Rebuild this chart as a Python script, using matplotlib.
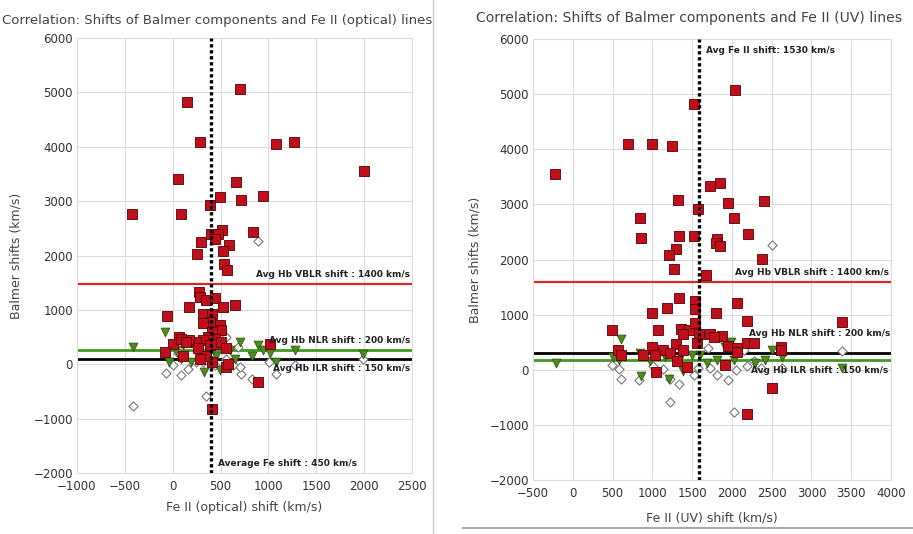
import matplotlib.pyplot as plt
from matplotlib.lines import Line2D

# Left panel: Fe II (optical) vs Balmer shifts
opt_vblr_x = [700, 150, 290, 1080, 1270, 2000, 60, 660, 490, 715, 940, 390, -420, 90,
              520, 400, 470, 445, 835, 300, 585, 530, 255, 535, 565,
              275, 290, 350, 445, 170, 525, 655, -60, 320, 415, 385, 315, 490, 510,
              415, 440, 370, 315, 245, 175, 70, 5, 90, 140, -75, 105, 265, 385, 455,
              510, 560, 560, 580, 1015, 895, 410, 415, 345, 290]
opt_vblr_y = [5060, 4830, 4090, 4060, 4090, 3560, 3400, 3350, 3070, 3030, 3090, 2930, 2760, 2770,
              2470, 2400, 2395, 2310, 2440, 2250, 2200, 2090, 2020, 1850, 1730,
              1320, 1230, 1190, 1220, 1050, 1050, 1090, 890, 920, 920, 780, 750, 720, 630,
              600, 470, 500, 440, 410, 440, 500, 380, 470, 410, 230, 160, 290, 350, 380,
              410, 290, -50, 10, 380, -330, -830, 40, 160, 100]
opt_nlr_x = [-410, -75, -40, 105, 90, 195, 330, 490, 455, 700, 895, 945, 1015, 1080,
             1275, 1990, 825, 595, 650, 280, 35]
opt_nlr_y = [310, 600, 40, 350, 100, 40, -140, -110, 160, 410, 360, 260, 200, 40,
             260, 180, 160, 260, 100, 200, 260]
opt_ilr_x = [-415, 345, -70, 90, 160, 0, 245, 560, 560, 710, 830, 1010, 1080, 1275,
             1990, 685, 55, 315, 630, 700, 440, 895]
opt_ilr_y = [-765, -590, -160, -195, -80, -20, 40, 500, 100, -185, -265, 40, -175, -5,
             100, 320, 200, 40, -20, -50, -20, 2270]

# Right panel: Fe II (UV) vs Balmer shifts
uv_vblr_x = [2040, 1520, 695, 1000, 1245, -225, 1725, 1850, 1325, 1580, 1945, 2405, 840, 2030,
             860, 1335, 1525, 1810, 1795, 1850, 2200, 1295, 1215, 2380, 1270, 1675,
             1340, 1185, 990, 1530, 1530, 2060, 1805, 2190, 3380, 490, 1070, 1355, 1465,
             1390, 1540, 1585, 1725, 1880, 1775, 1560, 2190, 2275, 1945, 2060, 1000, 1135,
             1300, 570, 605, 880, 1030, 1220, 1390, 1305, 1435, 1050, 1910, 2615, 2615,
             2510, 2190, 2070]
uv_vblr_y = [5070, 4830, 4090, 4090, 4060, 3545, 3330, 3390, 3085, 2920, 3025, 3060, 2760, 2750,
             2395, 2435, 2420, 2375, 2300, 2240, 2455, 2195, 2085, 2010, 1830, 1720,
             1305, 1120, 1035, 1245, 1110, 1210, 1035, 885, 870, 730, 720, 740, 720,
             650, 840, 640, 640, 620, 600, 480, 480, 480, 440, 400, 420, 360,
             460, 360, 270, 270, 270, 300, 360, 150, 50, -40, 90, 420, 360,
             -330, -810, 330]
uv_nlr_x = [-215, 605, 860, 1215, 3390, 2500, 2625, 1605, 1815, 2030, 2285, 1690, 585, 965,
            1330, 1500, 1155, 1910, 1995, 840, 500, 2415, 1390]
uv_nlr_y = [130, 550, -110, -170, 30, 360, 240, 270, 180, 180, 120, 120, 180, 150,
            180, 270, 240, 420, 510, 300, 240, 180, -30]
uv_ilr_x = [490, 605, 575, 830, 1010, 1135, 1220, 1330, 1220, 1520, 1575, 1725, 1810, 1945,
            2030, 2050, 2190, 2275, 2370, 2625, 3390, 1910, 1700, 2155, 2505]
uv_ilr_y = [90, -170, 10, -180, 60, 10, -170, -260, -580, -90, 30, 30, -90, -180,
            -760, 0, 70, 150, 30, 30, 340, 510, 390, 360, 2270]

# average shifts (position of the reference lines)
opt_lines = {"vblr": 1480, "nlr": 265, "ilr": 100, "fe": 400}
uv_lines = {"vblr": 1590, "nlr": 180, "ilr": 310, "fe": 1590}

RED = "#c00f1c"
GREEN = "#4f8a1e"
TXT = "#333333"

fig = plt.figure(figsize=(9.13, 5.34), dpi=100)
ax1 = fig.add_axes([0.0843, 0.1142, 0.3669, 0.8146])
ax2 = fig.add_axes([0.5838, 0.1011, 0.3921, 0.8258])


def draw_panel(ax, vx, vy, nx, ny, ix, iy, lines, xlim, xticks):
    ax.set_xlim(*xlim)
    ax.set_ylim(-2000, 6000)
    ax.set_xticks(xticks)
    ax.set_yticks(range(-2000, 6001, 1000))
    ax.grid(True, color="#dddddd", linewidth=0.8)
    ax.set_axisbelow(True)
    for s in ax.spines.values():
        s.set_color("#dddddd")
    ax.tick_params(length=0, labelsize=8.5, colors=TXT, pad=3)
    ax.tick_params(axis="x", pad=5)

    ax.axhline(lines["vblr"], color="#d42a2a", linewidth=1.6, zorder=2)
    ax.axhline(lines["nlr"], color="#3f9a22", linewidth=2, zorder=2)
    ax.axhline(lines["ilr"], color="black", linewidth=2, zorder=2)

    ax.scatter(ix, iy, marker="D", s=22, facecolor="white", edgecolor="#777777",
               linewidth=0.8, zorder=3)
    ax.scatter(nx, ny, marker="v", s=40, facecolor=GREEN, edgecolor="#2f5a10",
               linewidth=0.6, zorder=3)
    ax.scatter(vx, vy, marker="s", s=42, facecolor=RED, edgecolor="#5a0000",
               linewidth=0.6, zorder=4)

    ax.axvline(lines["fe"], color="black", linewidth=2.4, linestyle=(0, (1, 0.8)), zorder=5)


draw_panel(ax1, opt_vblr_x, opt_vblr_y, opt_nlr_x, opt_nlr_y, opt_ilr_x, opt_ilr_y,
           opt_lines, (-1000, 2500), range(-1000, 2501, 500))
draw_panel(ax2, uv_vblr_x, uv_vblr_y, uv_nlr_x, uv_nlr_y, uv_ilr_x, uv_ilr_y,
           uv_lines, (-500, 4000), range(-500, 4001, 500))

lab = dict(fontsize=6.5, fontweight="bold", color="#222222", zorder=6)

# left annotations
ax1.text(2480, 1560, "Avg Hb VBLR shift : 1400 km/s", ha="right", va="bottom", **lab)
ax1.text(2480, 440, "Avg Hb NLR shift : 200 km/s", ha="right", va="center", **lab)
ax1.text(2480, 10, "Avg Hb ILR shift : 150 km/s", ha="right", va="top", **lab)
ax1.text(470, -1820, "Average Fe shift : 450 km/s", ha="left", va="center", **lab)
ax1.set_title("Correlation: Shifts of Balmer components and Fe II (optical) lines",
              fontsize=9.5, color="#444444", x=0.419, pad=10)
ax1.set_xlabel("Fe II (optical) shift (km/s)", fontsize=9, color="#444444", labelpad=6)
ax1.set_ylabel("Balmer shifts (km/s)", fontsize=9, color="#444444", labelpad=8)

# right annotations
ax2.text(3970, 1690, "Avg Hb VBLR shift : 1400 km/s", ha="right", va="bottom", **lab)
ax2.text(3990, 660, "Avg Hb NLR shift : 200 km/s", ha="right", va="center", **lab)
ax2.text(3970, -20, "Avg Hb ILR shift : 150 km/s", ha="right", va="center", **lab)
ax2.text(1680, 5800, "Avg Fe II shift: 1530 km/s", ha="left", va="center", **lab)
ax2.set_title("Correlation: Shifts of Balmer components and Fe II (UV) lines",
              fontsize=10.1, color="#444444", x=0.436, pad=12)
ax2.set_xlabel("Fe II (UV) shift (km/s)", fontsize=9, color="#444444", labelpad=8)
ax2.set_ylabel("Balmer shifts (km/s)", fontsize=9, color="#444444", labelpad=6)

# frame lines of the two pasted panels
fig.add_artist(Line2D([433 / 913, 433 / 913], [0.0, 1.0], color="#cccccc", linewidth=1))
fig.add_artist(Line2D([463 / 913, 1.0], [1 - 528 / 534, 1 - 528 / 534], color="#aaaaaa", linewidth=1.5))

fig.savefig("out.png", dpi=100)
